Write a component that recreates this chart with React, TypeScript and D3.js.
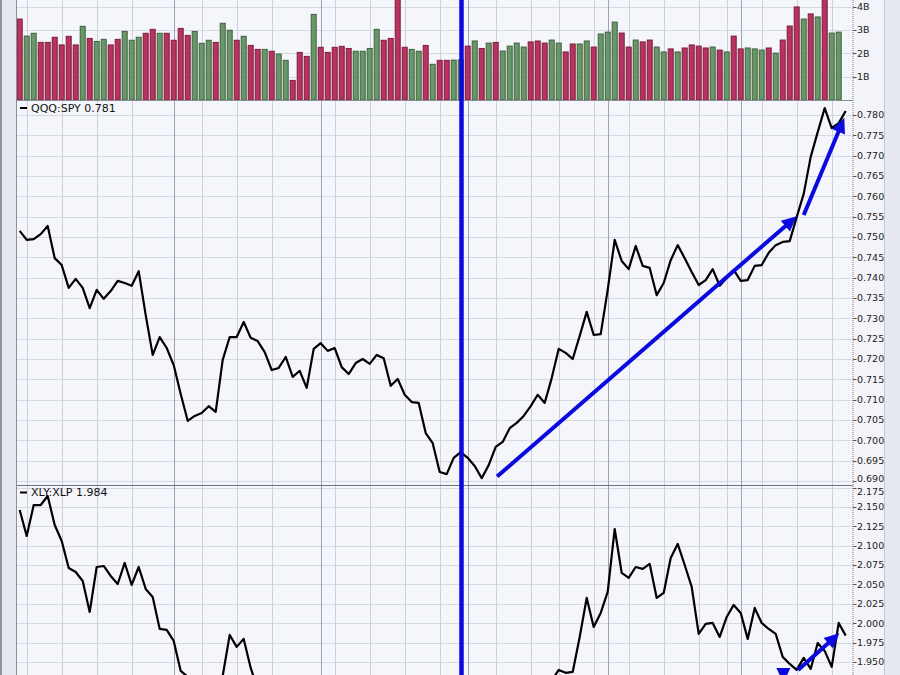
import React, { useEffect, useRef } from "react";
import * as d3 from "d3";

// daily volume, billions of shares
const volume = [
  3.47, 2.74, 2.86, 2.47, 2.47, 2.69, 2.36, 2.73, 2.36, 3.16,
  2.64, 2.51, 2.6, 2.36, 2.6, 2.94, 2.56, 2.69, 2.86, 3.03,
  2.86, 2.86, 2.56, 3.07, 2.77, 2.94, 2.43, 2.56, 2.47, 3.29,
  2.99, 2.56, 2.73, 2.34, 2.17, 2.17, 2.09, 1.97, 1.7, 0.84,
  2.04, 1.87, 3.67, 2.26, 2.04, 2.26, 2.3, 2.21, 2.09, 2.09,
  2.21, 3.03, 2.56, 2.64, 4.6, 2.26, 2.17, 2.09, 2.34, 1.53,
  1.7, 1.7, 1.71, 1.72, 2.31, 2.53, 2.21, 2.44, 2.47, 2.1,
  2.31, 2.44, 2.27, 2.49, 2.53, 2.44, 2.57, 2.44, 2.06, 2.4,
  2.4, 2.53, 2.27, 2.83, 2.91, 3.34, 2.87, 2.27, 2.57, 2.49,
  2.57, 2.27, 2.06, 2.19, 2.06, 2.23, 2.36, 2.31, 2.23, 2.27,
  2.14, 2.06, 2.74, 2.19, 2.23, 2.19, 2.14, 2.23, 2.01, 2.57,
  3.17, 3.99, 3.47, 3.69, 3.56, 4.6, 2.87, 2.91,
];

// u = up day, d = down day
const volumeDir = [
  "d","u","u","d","d","d","d","d","d","u",
  "d","u","u","d","d","u","u","u","d","d",
  "u","d","d","d","d","u","u","u","d","u",
  "u","d","u","d","d","u","d","u","u","d",
  "d","d","u","d","d","d","d","d","u","u",
  "u","u","d","d","d","d","u","u","d","u",
  "d","d","u","u","d","u","d","u","d","u",
  "u","u","u","d","d","d","u","u","d","d",
  "u","u","d","u","u","u","d","d","u","d",
  "d","u","u","d","u","d","d","d","d","u",
  "d","u","d","d","u","u","u","d","u","d",
  "d","d","u","d","u","d","u","u",
];

const qqqSpy = [
  0.7515, 0.7493, 0.7495, 0.7507, 0.7527, 0.7448, 0.7431, 0.7375, 0.7397, 0.7375,
  0.7325, 0.737, 0.7348, 0.7367, 0.7392, 0.7387, 0.738, 0.7416, 0.7308, 0.721,
  0.7254, 0.7227, 0.7185, 0.7114, 0.7048, 0.706, 0.7067, 0.7084, 0.707, 0.7198,
  0.7254, 0.7254, 0.7291, 0.7252, 0.7244, 0.7217, 0.7173, 0.7178, 0.7205, 0.7156,
  0.7171, 0.7129, 0.7225, 0.7239, 0.722, 0.7227, 0.718, 0.7163, 0.719, 0.72,
  0.7188, 0.721, 0.7202, 0.7134, 0.7151, 0.7112, 0.7094, 0.7092, 0.7018, 0.6993,
  0.6922, 0.6917, 0.6957, 0.6971, 0.6957, 0.6937, 0.6907, 0.6939, 0.6984, 0.6996,
  0.703, 0.7043, 0.706, 0.7084, 0.7112, 0.7092, 0.7153, 0.7225, 0.7215, 0.72,
  0.7257, 0.7316, 0.7259, 0.7261, 0.737, 0.7493, 0.7441, 0.7421, 0.7478, 0.7429,
  0.7424, 0.7357, 0.7387, 0.7443, 0.748, 0.7448, 0.7414, 0.7382, 0.7394, 0.7421,
  0.738, 0.7399, 0.7419, 0.7392, 0.7394, 0.7429, 0.7431, 0.7461, 0.748, 0.7488,
  0.749, 0.7549, 0.7606, 0.7697, 0.7758, 0.7817, 0.7768, 0.778, 0.781,
];

const xlyXlp = [
  2.146, 2.1125, 2.1524, 2.1524, 2.164, 2.1267, 2.1061, 2.0713, 2.0661, 2.0545,
  2.0146, 2.0725, 2.0738, 2.061, 2.0506, 2.0777, 2.0494, 2.0725, 2.0442, 2.0339,
  1.9926, 1.9914, 1.9772, 1.9385, 1.931, 1.922, 1.918, 1.921, 1.925, 1.932,
  1.9849, 1.9695, 1.9798, 1.9424, 1.915, 1.905, 1.898, 1.902, 1.894, 1.888,
  1.896, 1.903, 1.897, 1.89, 1.884, 1.879, 1.886, 1.892, 1.885, 1.878,
  1.872, 1.866, 1.874, 1.869, 1.862, 1.858, 1.864, 1.87, 1.863, 1.857,
  1.852, 1.86, 1.868, 1.875, 1.87, 1.878, 1.886, 1.882, 1.89, 1.897,
  1.905, 1.9, 1.908, 1.915, 1.91, 1.918, 1.926, 1.9398, 1.936, 1.9372,
  1.9823, 2.0326, 1.9952, 2.0133, 2.0403, 2.1215, 2.0648, 2.0584, 2.0725, 2.07,
  2.0764, 2.0326, 2.039, 2.0841, 2.1022, 2.0751, 2.0468, 1.9862, 1.9991, 2.0004,
  1.9823, 2.0081, 2.0236, 2.0133, 1.9798, 2.0197, 2.0004, 1.9926, 1.9862, 1.9566,
  1.9475, 1.9398, 1.9553, 1.9411, 1.9746, 1.9643, 1.9437, 2.0004, 1.984,
];

const volTicks = [1, 2, 3, 4];
const qqqTicks = [
  0.69, 0.695, 0.7, 0.705, 0.71, 0.715, 0.72, 0.725, 0.73, 0.735,
  0.74, 0.745, 0.75, 0.755, 0.76, 0.765, 0.77, 0.775, 0.78,
];
const xlyTicks = [1.95, 1.975, 2.0, 2.025, 2.05, 2.075, 2.1, 2.125, 2.15, 2.175];

// bar index of weekly / monthly grid lines
const weekLines = [1, 6, 11, 16, 26, 31, 36, 45, 50, 55, 60, 68, 73, 77, 82, 87, 92, 97, 101, 106, 111, 116];
const monthLines = [22, 43, 64, 84, 103];
const markerDay = 63;

// hand-drawn arrows: [day index, value]
const qqqArrows = [
  { from: [68.2, 0.6911], to: [111.0, 0.7551] },
  { from: [112.0, 0.7554], to: [117.8, 0.7793] },
];
const xlyArrows = [
  { from: [111.2, 1.9398], to: [117.1, 1.9871] },
  { from: [109.1, 1.9411], to: [109.1, 1.923] },
];

export default function App() {
  const ref = useRef<SVGSVGElement>(null);

  useEffect(() => {
    if (!ref.current) return;
    const svg = d3.select(ref.current);
    svg.selectAll("*").remove();

    const W = 900;
    const H = 675;
    const left = 16;
    const right = 852.5;
    const axisEnd = 884;
    const volBottom = 100;
    const qTop = 101;
    const qBottom = 485;
    const xTop = 486;
    const font = "DejaVu Sans, Verdana, sans-serif";
    const blue = "#0a0ade";

    const x = d3.scaleLinear().domain([0, 117]).range([19.7, 838.7]);
    const yVol = d3.scaleLinear().domain([0, 4]).range([volBottom, 6.7]);
    const yQ = d3.scaleLinear().domain([0.69, 0.78]).range([481, 115]);
    const yX = d3.scaleLinear().domain([1.95, 2.175]).range([662, 487.5]);

    // backgrounds
    svg.append("rect").attr("width", W).attr("height", H).attr("fill", "#e6e9f1");
    svg.append("rect").attr("x", 0).attr("width", 2).attr("height", H).attr("fill", "#8d93a2");
    svg.append("rect").attr("x", left).attr("width", right - left).attr("height", H).attr("fill", "#f5f6fb");
    svg.append("rect").attr("x", right).attr("width", axisEnd - right).attr("height", H).attr("fill", "#f3f4f9");
    svg.append("line").attr("x1", axisEnd + 0.5).attr("x2", axisEnd + 0.5).attr("y1", 0).attr("y2", H)
      .attr("stroke", "#c3c7d0");

    const defs = svg.append("defs");
    const clip = (id: string, y0: number, y1: number) =>
      defs.append("clipPath").attr("id", id).append("rect")
        .attr("x", left + 0.5).attr("y", y0).attr("width", right - left - 0.5).attr("height", y1 - y0);
    clip("cVol", 0, volBottom);
    clip("cQ", qTop, qBottom);
    clip("cX", xTop, H);

    // horizontal grid
    const hGrid = (ticks: number[], y: d3.ScaleLinear<number, number>) => {
      svg.append("g").selectAll("line").data(ticks).join("line")
        .attr("x1", left).attr("x2", right)
        .attr("y1", (d) => Math.round(y(d)) + 0.5).attr("y2", (d) => Math.round(y(d)) + 0.5)
        .attr("stroke", "#d6d9e1").attr("stroke-width", 1);
    };
    hGrid(volTicks, yVol);
    hGrid(qqqTicks, yQ);
    hGrid(xlyTicks, yX);

    // vertical grid
    svg.append("g").selectAll("line").data(weekLines).join("line")
      .attr("x1", (d) => Math.round(x(d)) + 0.5).attr("x2", (d) => Math.round(x(d)) + 0.5)
      .attr("y1", 0).attr("y2", H).attr("stroke", "#cdd0d9");
    svg.append("g").selectAll("line").data(monthLines).join("line")
      .attr("x1", (d) => Math.round(x(d)) + 0.5).attr("x2", (d) => Math.round(x(d)) + 0.5)
      .attr("y1", 0).attr("y2", H).attr("stroke", "#9fa3af");

    // volume bars
    svg.append("g").attr("clip-path", "url(#cVol)")
      .selectAll("rect").data(volume).join("rect")
      .attr("x", (_, i) => x(i) - 2.5)
      .attr("width", 5)
      .attr("y", (d) => yVol(d))
      .attr("height", (d) => volBottom - yVol(d))
      .attr("fill", (_, i) => (volumeDir[i] === "u" ? "#6a976a" : "#b8335f"))
      .attr("stroke", (_, i) => (volumeDir[i] === "u" ? "#3d613d" : "#7c1c3c"))
      .attr("stroke-width", 1);

    // panel borders
    svg.append("line").attr("x1", left).attr("x2", right).attr("y1", volBottom + 0.5).attr("y2", volBottom + 0.5)
      .attr("stroke", "#8a8e99");
    svg.append("line").attr("x1", left).attr("x2", right).attr("y1", qBottom + 0.5).attr("y2", qBottom + 0.5)
      .attr("stroke", "#6f737d");
    svg.append("line").attr("x1", left + 0.5).attr("x2", left + 0.5).attr("y1", 0).attr("y2", H)
      .attr("stroke", "#8a8f9a");

    // ratio lines
    const drawLine = (data: number[], y: d3.ScaleLinear<number, number>, clipId: string) => {
      const line = d3.line<number>().x((_, i) => x(i)).y((d) => y(d));
      svg.append("path").datum(data)
        .attr("clip-path", `url(#${clipId})`)
        .attr("fill", "none").attr("stroke", "#000").attr("stroke-width", 2.2)
        .attr("stroke-linejoin", "round")
        .attr("d", line);
    };
    drawLine(qqqSpy, yQ, "cQ");
    drawLine(xlyXlp, yX, "cX");

    // vertical marker
    svg.append("line")
      .attr("x1", x(markerDay) + 0.8).attr("x2", x(markerDay) + 0.8)
      .attr("y1", 0).attr("y2", H)
      .attr("stroke", blue).attr("stroke-width", 4.5);

    // arrows
    const drawArrow = (a: { from: number[]; to: number[] }, y: d3.ScaleLinear<number, number>, clipId: string) => {
      const x1 = x(a.from[0]);
      const y1 = y(a.from[1]);
      const x2 = x(a.to[0]);
      const y2 = y(a.to[1]);
      const len = Math.hypot(x2 - x1, y2 - y1);
      const ux = (x2 - x1) / len;
      const uy = (y2 - y1) / len;
      const headLen = 15;
      const headHalf = 7;
      const bx = x2 - ux * headLen;
      const by = y2 - uy * headLen;
      const g = svg.append("g").attr("clip-path", `url(#${clipId})`);
      if (len > headLen) {
        g.append("line").attr("x1", x1).attr("y1", y1).attr("x2", bx + ux).attr("y2", by + uy)
          .attr("stroke", blue).attr("stroke-width", 4);
      }
      g.append("path")
        .attr("d", `M${x2},${y2}L${bx - uy * headHalf},${by + ux * headHalf}L${bx + uy * headHalf},${by - ux * headHalf}Z`)
        .attr("fill", blue);
    };
    defs.append("clipPath").attr("id", "cQa").append("rect")
      .attr("x", left).attr("y", qTop).attr("width", right - left).attr("height", qBottom - qTop);
    qqqArrows.forEach((a) => drawArrow(a, yQ, "cQa"));
    xlyArrows.forEach((a) => drawArrow(a, yX, "cX"));

    // legends
    const legend = (label: string, yBase: number) => {
      svg.append("rect").attr("x", 20).attr("y", yBase - 4.5).attr("width", 7).attr("height", 2).attr("fill", "#000");
      svg.append("text").attr("x", 31).attr("y", yBase).text(label)
        .attr("font-family", font).attr("font-size", 11).attr("fill", "#111");
    };
    legend(`QQQ:SPY ${qqqSpy[qqqSpy.length - 1].toFixed(3)}`, 111.5);
    legend(`XLY:XLP ${xlyXlp[xlyXlp.length - 1].toFixed(3)}`, 496);

    // right axis
    svg.append("line").attr("x1", right + 0.5).attr("x2", right + 0.5).attr("y1", 0).attr("y2", H)
      .attr("stroke", "#7a7e88").attr("stroke-dasharray", "1,1");
    const axis = (
      ticks: number[],
      y: d3.ScaleLinear<number, number>,
      fmt: (d: number) => string,
      yMin: number,
      yMax: number
    ) => {
      const g = svg.append("g");
      g.selectAll("line").data(ticks).join("line")
        .attr("x1", right + 0.5).attr("x2", right + 4)
        .attr("y1", (d) => Math.round(y(d)) + 0.5).attr("y2", (d) => Math.round(y(d)) + 0.5)
        .attr("stroke", "#555");
      g.selectAll("text").data(ticks).join("text")
        .attr("x", right + 4.5)
        .attr("y", (d) => Math.min(yMax, Math.max(yMin, y(d) + 3.4)))
        .attr("font-family", font).attr("font-size", 9.5).attr("fill", "#222")
        .text(fmt);
    };
    axis(volTicks, yVol, (d) => `${d}B`, 0, volBottom);
    axis(qqqTicks, yQ, (d) => d3.format(".3f")(d), qTop, qBottom - 3);
    axis(xlyTicks, yX, (d) => d3.format(".3f")(d), xTop + 8.5, H);
  }, []);

  return (
    <div style={{ position: "absolute", left: 0, top: 0 }}>
      <svg ref={ref} width={900} height={675} style={{ display: "block" }} />
    </div>
  );
}
